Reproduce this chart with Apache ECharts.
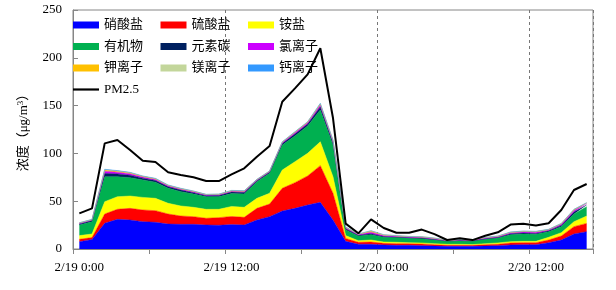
<!DOCTYPE html>
<html>
<head>
<meta charset="utf-8">
<script src="https://cdn.jsdelivr.net/npm/echarts@6/dist/echarts.min.js"></script>
<style>html,body{margin:0;padding:0;background:#fff}#c{width:616px;height:290px}</style>
</head>
<body>
<div id="c"></div>
<script>
const categories = [
 "2/19 0:00","2/19 1:00","2/19 2:00","2/19 3:00","2/19 4:00","2/19 5:00","2/19 6:00","2/19 7:00","2/19 8:00","2/19 9:00","2/19 10:00","2/19 11:00",
 "2/19 12:00","2/19 13:00","2/19 14:00","2/19 15:00","2/19 16:00","2/19 17:00","2/19 18:00","2/19 19:00","2/19 20:00","2/19 21:00","2/19 22:00","2/19 23:00",
 "2/20 0:00","2/20 1:00","2/20 2:00","2/20 3:00","2/20 4:00","2/20 5:00","2/20 6:00","2/20 7:00","2/20 8:00","2/20 9:00","2/20 10:00","2/20 11:00",
 "2/20 12:00","2/20 13:00","2/20 14:00","2/20 15:00","2/20 16:00"
];
const nitrate   = [7.6,10,26.9,31,30.3,28.6,27.9,26.1,25.8,25.8,25.1,24.8,25.5,25.1,30.3,33.8,39.7,42.5,46,48.8,30.3,8,5,4.9,4.2,3.8,3.8,3.5,3.1,2.8,2.8,2.8,3.1,3.5,4.2,4.5,4.5,6.6,9.4,15.7,18.1];
const sulfate   = [2.5,1.9,9.7,10.5,12.2,12.2,12.2,10.5,8.7,8,7,8,8.5,8,12.2,13.2,23.8,26.9,30.4,38.4,28,3,2,2.4,1.7,1.8,1.8,1.7,1.4,1,1,1,1.4,1.4,2.1,2.1,2.1,2.8,4.2,7.7,8.7];
const ammonium  = [3.9,3.8,12.9,13.2,12.9,13.2,12.9,11.2,10.5,9.8,9.4,8.7,10.5,10.5,10.5,11.3,19.1,21.9,23.7,25,17.3,3,1.7,2.1,1.4,1.4,1,1.1,1.1,1.1,1.1,0.8,1.1,1.4,1.4,1.4,1.4,2.8,3.5,5.2,7.7];
const organic   = [11.1,12.9,26.1,20.9,19.2,18.2,16.8,15.7,15,13.9,13.2,13.2,13.5,13.9,17.4,20.9,26.2,26.9,28.6,33.2,33.2,6,4.9,5.6,4.9,4.9,4.6,4.5,3.8,3.1,3.5,3.4,4.5,5.2,7.3,7.7,7.3,5.9,6.3,8,9.8];
const ec        = [1.1,1.1,3.5,2.9,2.5,1.9,1.8,1.6,1.6,1.4,1.1,1.3,1.5,1.6,1.1,1.1,1.5,2,2,3.2,2.3,1.3,0.8,1,0.8,0.6,0.6,0.6,0.6,0.4,0.5,0.5,0.6,0.6,0.9,1,1,0.9,1.3,2,1.8];
const chloride  = [0.7,0.7,2.3,1.9,1.7,1.3,1.2,1,1,1,0.8,0.8,1,1,0.8,0.8,1,1.4,1.4,2.1,1.6,0.9,0.7,1.5,1,0.8,0.7,0.8,0.8,0.5,0.6,0.7,0.8,0.8,1,1.1,1.2,0.9,1.2,1.8,1.5];
const potassium = [0.4,0.4,1.2,1,0.8,0.6,0.6,0.5,0.5,0.5,0.4,0.4,0.5,0.5,0.4,0.4,0.5,0.7,0.7,1,0.8,0.5,0.4,1.3,0.7,0.5,0.5,0.5,0.5,0.3,0.4,0.4,0.5,0.5,0.6,0.7,0.7,0.5,0.6,0.8,0.6];
const magnesium = [0.1,0.1,0.4,0.3,0.3,0.2,0.2,0.2,0.2,0.15,0.1,0.15,0.15,0.2,0.1,0.1,0.2,0.2,0.2,0.35,0.25,0.15,0.1,0.2,0.15,0.1,0.1,0.1,0.1,0.1,0.1,0.1,0.1,0.1,0.15,0.15,0.15,0.1,0.15,0.15,0.15];
const calcium   = [0.1,0.1,0.4,0.3,0.3,0.2,0.3,0.2,0.2,0.15,0.1,0.15,0.15,0.2,0.1,0.1,0.2,0.2,0.2,0.35,0.25,0.15,0.1,0.2,0.15,0.1,0.1,0.1,0.1,0.1,0.1,0.1,0.1,0.1,0.15,0.15,0.15,0.1,0.15,0.15,0.15];
const pm25      = [37.3,42.5,110.5,114,103.5,92.4,91,80.2,77.4,75,71.1,71.1,78,84.4,96.6,107.7,154,168,182.7,210,137,26.5,16.4,31,22,17,17,20.3,15.5,9.4,11.3,9.3,13.8,17.5,25.5,26.5,24.6,26.9,40.8,61.7,68];

const areaNames  = ["硝酸盐","硫酸盐","铵盐","有机物","元素碳","氯离子","钾离子","镁离子","钙离子"];
const areaData   = [nitrate,sulfate,ammonium,organic,ec,chloride,potassium,magnesium,calcium];
const areaColors = ["#0000ff","#ff0000","#ffff00","#00b050","#002060","#cc00ff","#ffc000","#c3d69b","#3399ff"];

const serif = "'Liberation Serif','Times New Roman','Noto Sans CJK SC',serif";
const series = areaNames.map((n,i)=>({
  name:n, type:'line', stack:'total', data:areaData[i], symbol:'none',
  itemStyle:{color:areaColors[i]},
  lineStyle:{width:0.5,color:areaColors[i]},
  areaStyle:{color:areaColors[i],opacity:1},
  z:2
}));
series.push({name:'PM2.5', type:'line', data:pm25, symbol:'none', itemStyle:{color:'#000'}, lineStyle:{width:2,color:'#000'}, z:5});

const chart = echarts.init(document.getElementById('c'),null,{renderer:'canvas'});
chart.setOption({
  animation:false,
  backgroundColor:'#fff',
  grid:{left:73,right:23,top:10,bottom:41,show:true,borderColor:'#868686',borderWidth:1,backgroundColor:'transparent'},
  legend:{
    left:73, top:18, width:270, orient:'horizontal', padding:0,
    itemGap:7.5, itemWidth:26, itemHeight:7, symbolKeepAspect:true,
    data:[...areaNames.map(n=>({name:n,icon:'rect'})),{name:'PM2.5',icon:'path://M0,0H26V2.2H0Z',itemStyle:{color:'#000'}}],
    textStyle:{fontSize:13,color:'#000',fontFamily:serif,width:49,lineHeight:14,padding:[0,0,0,0]}
  },
  xAxis:{
    type:'category', data:categories, boundaryGap:true,
    axisLine:{lineStyle:{color:'#868686'}},
    axisTick:{show:true,interval:5,length:5,lineStyle:{color:'#868686'}},
    axisLabel:{interval:11,margin:12,fontSize:13,color:'#000',fontFamily:serif},
    splitLine:{show:true,interval:11,lineStyle:{color:'#777',type:[3,3],width:1}}
  },
  yAxis:{
    type:'value', min:0, max:250, interval:50,
    name:'浓度（μg/m{s|3}）', nameLocation:'middle', nameRotate:90, nameGap:42,
    nameTextStyle:{fontSize:13,color:'#000',fontFamily:serif,rich:{s:{fontSize:9,verticalAlign:'top',fontFamily:serif,color:'#000',padding:[0,0,6,0]}}},
    axisLine:{show:true,lineStyle:{color:'#868686'}},
    axisTick:{show:true,inside:true,length:5,lineStyle:{color:'#868686'}},
    axisLabel:{margin:11,fontSize:13,color:'#000',fontFamily:serif},
    splitLine:{show:false}
  },
  series:series
});
</script>
</body>
</html>
